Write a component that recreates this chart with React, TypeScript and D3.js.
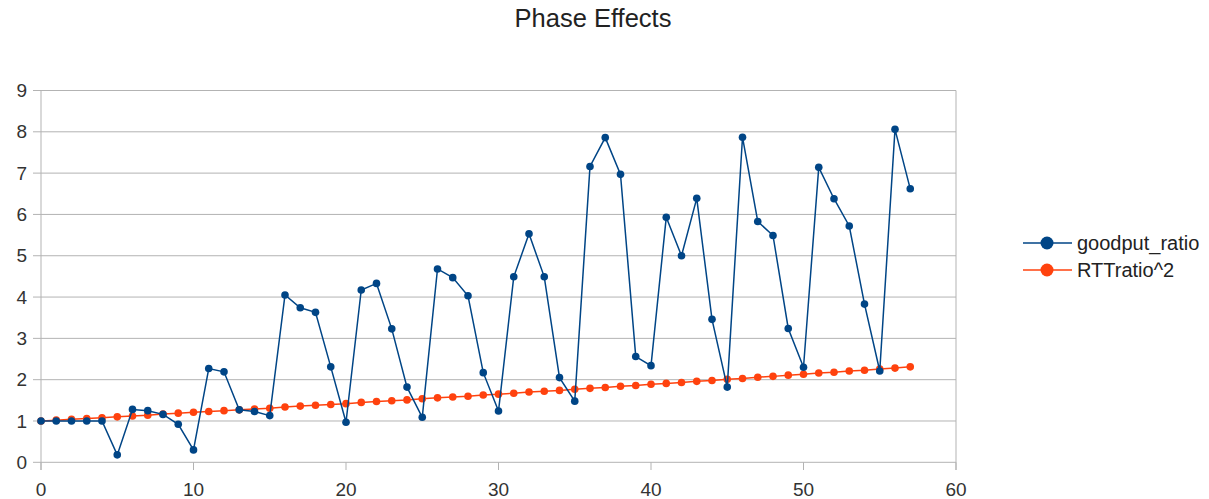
import React from "react";
import * as d3 from "d3";

const xValues: number[] = Array.from({ length: 58 }, (_, i) => i);

const goodputRatio: number[] = [
  1.0, 1.0, 1.0, 1.0, 1.0, 0.18, 1.28, 1.25, 1.16, 0.92,
  0.3, 2.27, 2.19, 1.27, 1.23, 1.13, 4.05, 3.74, 3.63, 2.31,
  0.97, 4.17, 4.33, 3.23, 1.82, 1.09, 4.68, 4.47, 4.03, 2.17,
  1.24, 4.49, 5.53, 4.49, 2.05, 1.48, 7.16, 7.86, 6.97, 2.56,
  2.34, 5.93, 5.0, 6.39, 3.46, 1.82, 7.87, 5.83, 5.49, 3.24,
  2.3, 7.14, 6.38, 5.72, 3.83, 2.21, 8.06, 6.62,
];

const rttRatioSq: number[] = [
  1.0, 1.02, 1.04, 1.06, 1.08, 1.1, 1.12, 1.14, 1.17, 1.19,
  1.21, 1.23, 1.25, 1.27, 1.29, 1.31, 1.34, 1.36, 1.38, 1.4,
  1.42, 1.45, 1.47, 1.49, 1.51, 1.54, 1.56, 1.58, 1.6, 1.63,
  1.65, 1.67, 1.7, 1.72, 1.74, 1.77, 1.79, 1.81, 1.84, 1.86,
  1.89, 1.91, 1.93, 1.96, 1.98, 2.01, 2.03, 2.06, 2.08, 2.11,
  2.13, 2.16, 2.18, 2.21, 2.23, 2.26, 2.28, 2.31,
];

const xTicks: number[] = [0, 10, 20, 30, 40, 50, 60];
const yTicks: number[] = [0, 1, 2, 3, 4, 5, 6, 7, 8, 9];
const seriesNames: string[] = ["goodput_ratio", "RTTratio^2"];
const seriesColors: string[] = ["#004586", "#ff420e"];

const W = 1209;
const H = 499;
const FONT = "'Liberation Sans', Arial, sans-serif";

export default function App() {
  const x = d3.scaleLinear().domain([0, 60]).range([41, 956]);
  const y = d3.scaleLinear().domain([0, 9]).range([462.3, 90.5]);
  const line = d3
    .line<number>()
    .x((_, i) => x(xValues[i]))
    .y((d) => y(d));
  const series = [goodputRatio, rttRatioSq];
  const legendY = [243, 270];

  return (
    <svg
      width={W}
      height={H}
      style={{ position: "absolute", left: 0, top: 0, background: "#fff" }}
      fontFamily={FONT}
    >
      <rect x={0} y={0} width={W} height={H} fill="#fff" />
      <text x={593} y={27} textAnchor="middle" fontSize={25.5} fill="#222">
        Phase Effects
      </text>
      {yTicks.map((t) => (
        <g key={"y" + t}>
          <line x1={33} x2={956} y1={y(t)} y2={y(t)} stroke="#b3b3b3" strokeWidth={1} />
          <text
            x={27}
            y={y(t)}
            dy="0.35em"
            textAnchor="end"
            fontSize={19}
            fill="#333"
          >
            {t}
          </text>
        </g>
      ))}
      <line x1={41} x2={41} y1={y(9)} y2={470} stroke="#b3b3b3" strokeWidth={1} />
      <line x1={956} x2={956} y1={y(9)} y2={470} stroke="#b3b3b3" strokeWidth={1} />
      {xTicks.map((t) => (
        <g key={"x" + t}>
          <line x1={x(t)} x2={x(t)} y1={y(0)} y2={470} stroke="#b3b3b3" strokeWidth={1} />
          <text
            x={x(t)}
            y={496}
            textAnchor="middle"
            fontSize={19}
            fill="#333"
          >
            {t}
          </text>
        </g>
      ))}
      {[1, 0].map((si) => (
        <g key={"s" + si}>
          <path
            d={line(series[si]) || ""}
            fill="none"
            stroke={seriesColors[si]}
            strokeWidth={1.5}
          />
          {series[si].map((v, i) => (
            <circle
              key={i}
              cx={x(xValues[i])}
              cy={y(v)}
              r={3.8}
              fill={seriesColors[si]}
            />
          ))}
        </g>
      ))}
      {seriesNames.map((name, i) => (
        <g key={name}>
          <line
            x1={1023}
            x2={1072}
            y1={legendY[i]}
            y2={legendY[i]}
            stroke={seriesColors[i]}
            strokeWidth={1.5}
          />
          <circle cx={1047} cy={legendY[i]} r={6.5} fill={seriesColors[i]} />
          <text
            x={1077}
            y={legendY[i]}
            dy="0.35em"
            fontSize={20}
            fill="#222"
          >
            {name}
          </text>
        </g>
      ))}
    </svg>
  );
}
